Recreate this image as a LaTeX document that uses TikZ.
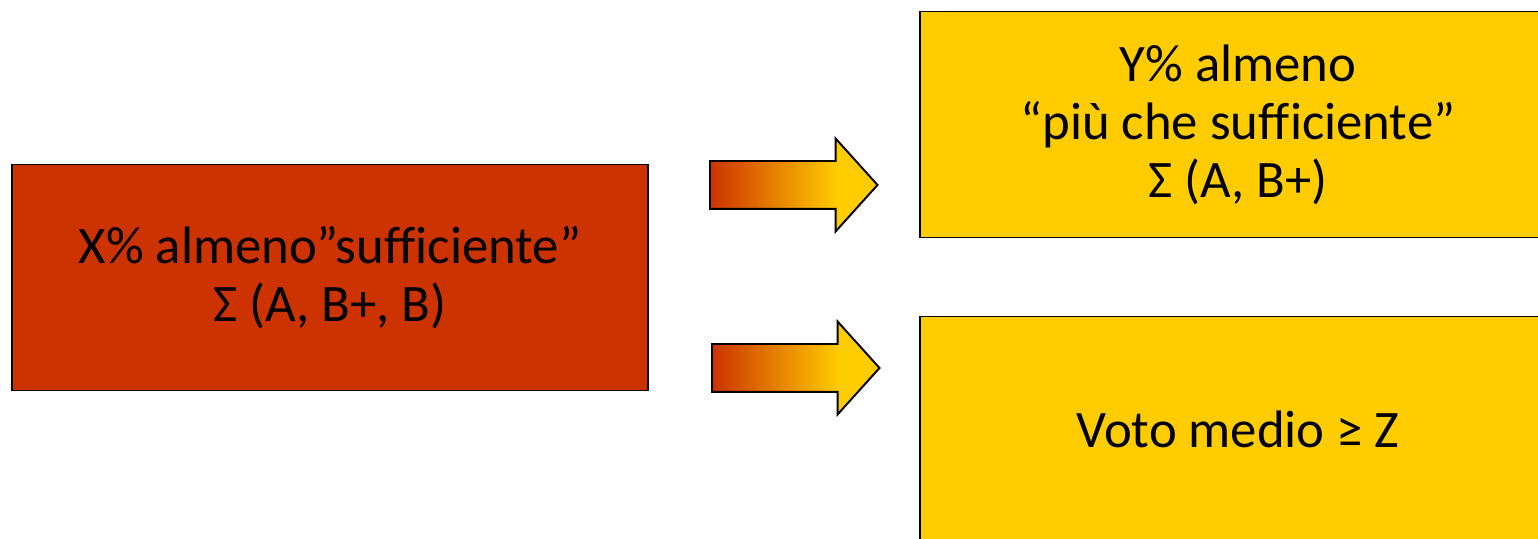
\documentclass[tikz,border=0pt]{standalone}
\usepackage{fontspec}
\setmainfont[Ligatures=NoCommon]{Carlito}
\usetikzlibrary{shapes.arrows}
\definecolor{rust}{HTML}{CC3300}
\definecolor{gold}{HTML}{FFCC00}
\pgfdeclarehorizontalshading{rustgold}{100bp}{color(0bp)=(rust); color(25bp)=(rust); color(63bp)=(gold); color(100bp)=(gold)}

\begin{document}
\begin{tikzpicture}[
  box/.style={draw=black, line width=1.1pt, minimum width=12.72cm, minimum height=4.52cm,
    align=center, inner sep=0pt, font=\fontsize{30}{33}\selectfont},
  push/.style={single arrow, draw=black, line width=1.1pt, shade, shading=rustgold,
    minimum height=3.35cm, minimum width=1.82cm, single arrow head extend=0.45cm,
    single arrow tip angle=96, inner xsep=0pt, inner ysep=0.46cm, anchor=tail}]
  \useasboundingbox (0,0) rectangle (30.76,10.78);
  \clip (0,0) rectangle (30.76,10.78);

  \node[box, fill=rust] (suff) at (6.6,5.23) {X\% almeno”sufficiente”\\Σ (A, B+, B)};
  \node[box, fill=gold] (piu) at (24.76,8.29) {Y\% almeno\\“più che sufficiente”\\Σ (A, B+)};
  \node[box, fill=gold] (voto) at (24.76,2.19) {Voto medio ≥ Z};

  \node[push] (up) at (14.18,7.08) {};
  \node[push] (down) at (14.22,3.42) {};
\end{tikzpicture}
\end{document}
